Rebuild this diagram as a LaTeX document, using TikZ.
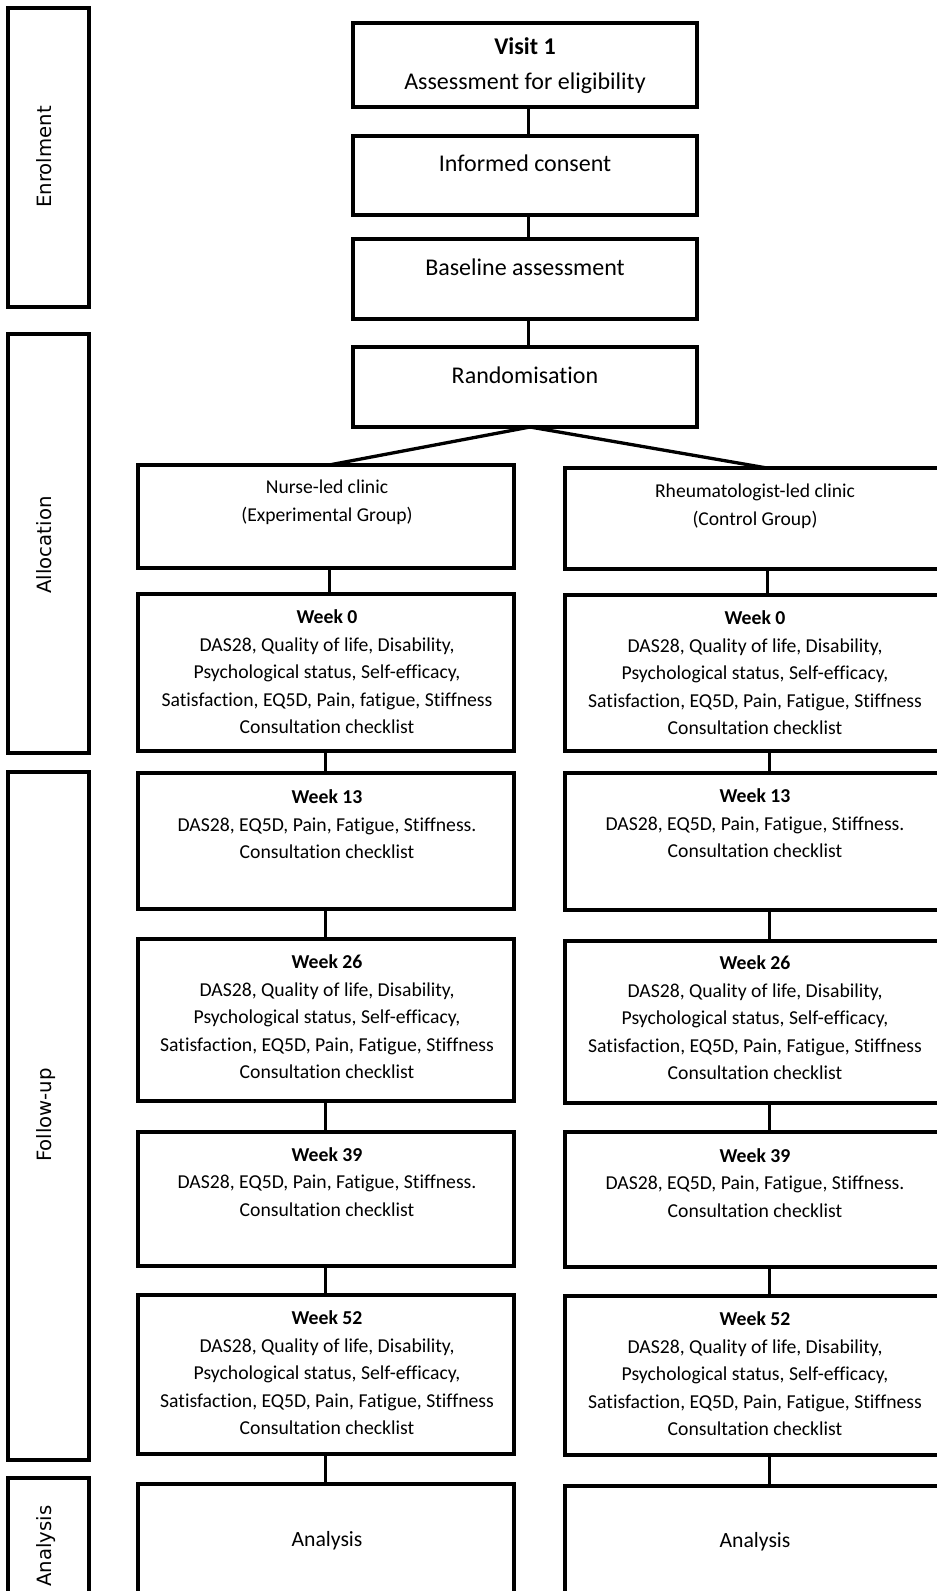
\documentclass[tikz,border=0pt]{standalone}
\usepackage{fontspec}
\setmainfont{Carlito}[Ligatures=NoCommon]
\newfontfamily\sidefont{DejaVu Sans}
\begin{document}
\begin{tikzpicture}[x=1pt,y=-1pt,
  box/.style={draw=black, line width=3.3pt, inner sep=0pt, minimum width=376pt},
  topbox/.style={draw=black, line width=3.3pt, inner sep=0pt, minimum width=344pt},
  sidebox/.style={draw=black, line width=3.3pt, inner sep=0pt, minimum width=81pt},
  conn/.style={line width=3pt},
  diag/.style={line width=3.3pt},
  toptxt/.style={inner sep=0pt, align=center, font=\fontsize{24}{35}\selectfont},
  txt/.style={inner sep=0pt, align=center, font=\fontsize{19.7}{27.5}\selectfont},
  grptxt/.style={inner sep=0pt, align=center, font=\fontsize{19.6}{28}\selectfont},
  antxt/.style={inner sep=0pt, align=center, font=\fontsize{21.7}{26}\selectfont},
  sidetxt/.style={inner sep=0pt, rotate=90, anchor=base, font=\sidefont\fontsize{19.7}{24}\selectfont}]
\useasboundingbox (0,0) rectangle (937,1591);
\clip (0,0) rectangle (937,1591);
\fill[white] (0,0) rectangle (937,1591);

% side boxes
\node[sidebox, minimum height=299pt] (enrol) at (48.5,157.5) {};
\node[sidebox, minimum height=419pt] (alloc) at (48.5,543.5) {};
\node[sidebox, minimum height=688pt] (follow) at (48.5,1116) {};
\node[sidebox, minimum height=162pt] (anal) at (48.5,1559) {};
\node[sidetxt] (enrolt) at (51,157) {Enrolment};
\node[sidetxt] (alloct) at (51,545) {Allocation};
\node[sidetxt] (followt) at (51,1115) {Follow-up};
\node[sidetxt] (analt) at (51,1546) {Analysis};

% top column
\node[topbox, minimum height=84pt] (visit) at (525,65) {};
\node[topbox, minimum height=79pt] (consent) at (525,175.5) {};
\node[topbox, minimum height=80pt] (base) at (525,279) {};
\node[topbox, minimum height=80pt] (rand) at (525,387) {};
\node[toptxt] (visitt) at (525,66) {\textbf{Visit 1}\\Assessment for eligibility};
\node[toptxt] (consentt) at (525,163) {Informed consent};
\node[toptxt] (baset) at (525,267) {Baseline assessment};
\node[toptxt] (randt) at (525,375) {Randomisation};

% left column
\node[box, minimum height=103pt] (nurse) at (326,516.5) {};
\node[box, minimum height=157pt] (nw0) at (326,672.5) {};
\node[box, minimum height=136pt] (nw13) at (326,841) {};
\node[box, minimum height=162pt] (nw26) at (326,1020) {};
\node[box, minimum height=134pt] (nw39) at (326,1199) {};
\node[box, minimum height=159pt] (nw52) at (326,1374.5) {};
\node[box, minimum height=156pt] (nan) at (326,1562) {};

% right column
\node[box, minimum height=101pt] (rheum) at (753,518.5) {};
\node[box, minimum height=156pt] (rw0) at (753,673) {};
\node[box, minimum height=137pt] (rw13) at (753,841.5) {};
\node[box, minimum height=162pt] (rw26) at (753,1022) {};
\node[box, minimum height=135pt] (rw39) at (753,1199.5) {};
\node[box, minimum height=159pt] (rw52) at (753,1375.5) {};
\node[box, minimum height=154pt] (ran) at (753,1563) {};

% texts left
\node[grptxt] (nurset) at (327,502) {Nurse-led clinic\\(Experimental Group)};
\node[txt] (nw0t) at (327,672) {\textbf{Week 0}\\DAS28, Quality of life, Disability,\\Psychological status, Self-efficacy,\\Satisfaction, EQ5D, Pain, fatigue, Stiffness\\Consultation checklist};
\node[txt] (nw13t) at (327,824.5) {\textbf{Week 13}\\DAS28, EQ5D, Pain, Fatigue, Stiffness.\\Consultation checklist};
\node[txt] (nw26t) at (327,1017) {\textbf{Week 26}\\DAS28, Quality of life, Disability,\\Psychological status, Self-efficacy,\\Satisfaction, EQ5D, Pain, Fatigue, Stiffness\\Consultation checklist};
\node[txt] (nw39t) at (327,1182) {\textbf{Week 39}\\DAS28, EQ5D, Pain, Fatigue, Stiffness.\\Consultation checklist};
\node[txt] (nw52t) at (327,1373) {\textbf{Week 52}\\DAS28, Quality of life, Disability,\\Psychological status, Self-efficacy,\\Satisfaction, EQ5D, Pain, Fatigue, Stiffness\\Consultation checklist};
\node[antxt] (nant) at (327,1541) {Analysis};

% texts right
\node[grptxt] (rheumt) at (755,506) {Rheumatologist-led clinic\\(Control Group)};
\node[txt] (rw0t) at (755,673) {\textbf{Week 0}\\DAS28, Quality of life, Disability,\\Psychological status, Self-efficacy,\\Satisfaction, EQ5D, Pain, Fatigue, Stiffness\\Consultation checklist};
\node[txt] (rw13t) at (755,823.5) {\textbf{Week 13}\\DAS28, EQ5D, Pain, Fatigue, Stiffness.\\Consultation checklist};
\node[txt] (rw26t) at (755,1018) {\textbf{Week 26}\\DAS28, Quality of life, Disability,\\Psychological status, Self-efficacy,\\Satisfaction, EQ5D, Pain, Fatigue, Stiffness\\Consultation checklist};
\node[txt] (rw39t) at (755,1183) {\textbf{Week 39}\\DAS28, EQ5D, Pain, Fatigue, Stiffness.\\Consultation checklist};
\node[txt] (rw52t) at (755,1374) {\textbf{Week 52}\\DAS28, Quality of life, Disability,\\Psychological status, Self-efficacy,\\Satisfaction, EQ5D, Pain, Fatigue, Stiffness\\Consultation checklist};
\node[antxt] (rant) at (755,1542) {Analysis};

% column lines
\coordinate (topx) at (528,0);
\coordinate (leftx) at (325,0);
\coordinate (rightx) at (769,0);
\coordinate (split) at (530,427);
\coordinate (nurseend) at (329,465);
\coordinate (rheumend) at (767,468);

\draw[conn] (visit.south -| topx) -- (consent.north -| topx);
\draw[conn] (consent.south -| topx) -- (base.north -| topx);
\draw[conn] (base.south -| topx) -- (rand.north -| topx);
\draw[diag] (split) -- (nurseend);
\draw[diag] (split) -- (rheumend);

\draw[conn] (nurse.south -| nurseend) -- (nw0.north -| nurseend);
\draw[conn] (nw0.south -| leftx) -- (nw13.north -| leftx);
\draw[conn] (nw13.south -| leftx) -- (nw26.north -| leftx);
\draw[conn] (nw26.south -| leftx) -- (nw39.north -| leftx);
\draw[conn] (nw39.south -| leftx) -- (nw52.north -| leftx);
\draw[conn] (nw52.south -| leftx) -- (nan.north -| leftx);

\draw[conn] (rheum.south -| rheumend) -- (rw0.north -| rheumend);
\draw[conn] (rw0.south -| rightx) -- (rw13.north -| rightx);
\draw[conn] (rw13.south -| rightx) -- (rw26.north -| rightx);
\draw[conn] (rw26.south -| rightx) -- (rw39.north -| rightx);
\draw[conn] (rw39.south -| rightx) -- (rw52.north -| rightx);
\draw[conn] (rw52.south -| rightx) -- (ran.north -| rightx);
\end{tikzpicture}
\end{document}
